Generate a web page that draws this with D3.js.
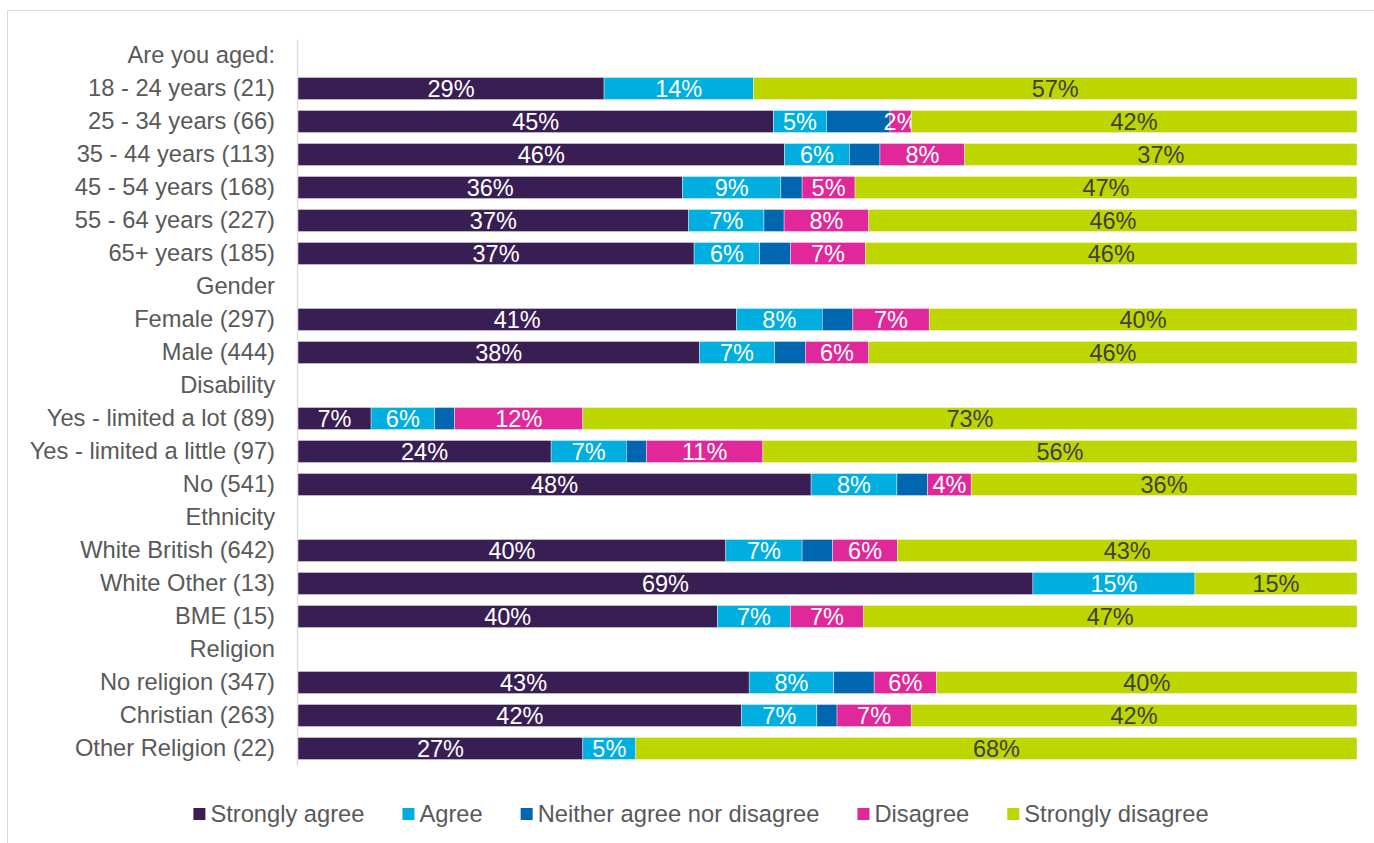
<!DOCTYPE html>
<html>
<head>
<meta charset="utf-8">
<script src="https://cdn.jsdelivr.net/npm/d3@7"></script>
<style>
  body { margin: 0; background: #fff; }
  text { font-family: Arial, "Liberation Sans", sans-serif; }
</style>
</head>
<body>
<script>
// rows of the chart, header rows have no values
var categories = ["Are you aged:", "18 - 24 years (21)", "25 - 34 years (66)", "35 - 44 years (113)",
  "45 - 54 years (168)", "55 - 64 years (227)", "65+ years (185)", "Gender", "Female (297)", "Male (444)",
  "Disability", "Yes - limited a lot (89)", "Yes - limited a little (97)", "No (541)", "Ethnicity",
  "White British (642)", "White Other (13)", "BME (15)", "Religion", "No religion (347)",
  "Christian (263)", "Other Religion (22)"];

var stronglyAgree = [null, 28.9, 44.9, 45.9, 36.3, 36.9, 37.4, null, 41.4, 37.9, null, 6.9, 23.9, 48.4, null, 40.4, 69.4, 39.6, null, 42.6, 41.9, 26.9];
var agree = [null, 14.1, 5.0, 6.1, 9.3, 7.1, 6.2, null, 8.1, 7.1, null, 6.0, 7.1, 8.1, null, 7.2, 15.3, 6.9, null, 8.0, 7.1, 5.0];
var neither = [null, 0, 6.0, 2.9, 2.0, 1.9, 2.9, null, 2.9, 2.9, null, 1.9, 1.9, 2.9, null, 2.9, 0, 0, null, 3.8, 1.9, 0];
var disagree = [null, 0, 2.0, 8.0, 5.0, 8.0, 7.1, null, 7.2, 6.0, null, 12.1, 11.0, 4.1, null, 6.1, 0, 6.9, null, 5.9, 7.0, 0];
var stronglyDisagree = [null, 57.0, 42.1, 37.0, 47.4, 46.1, 46.4, null, 40.4, 46.1, null, 73.1, 56.1, 36.4, null, 43.4, 15.3, 46.6, null, 39.7, 42.1, 68.1];

var seriesNames = ["Strongly agree", "Agree", "Neither agree nor disagree", "Disagree", "Strongly disagree"];
var seriesColours = ["#391e54", "#00aee0", "#0066b0", "#e0289b", "#bed600"];
var labelled = [true, true, false, true, true];

var w = 1374;
var h = 843;

var svg = d3.select("body")
  .append("svg")
  .attr("width", w)
  .attr("height", h);

// chart area frame
svg.append("rect")
  .attr("x", 7.5)
  .attr("y", 10.5)
  .attr("width", 1400)
  .attr("height", 900)
  .attr("fill", "none")
  .attr("stroke", "#d9d9d9");

// build table for the stack
var table = categories.map(function(c, i) {
  return {
    cat: c,
    header: stronglyAgree[i] === null,
    "Strongly agree": stronglyAgree[i] || 0,
    "Agree": agree[i] || 0,
    "Neither agree nor disagree": neither[i] || 0,
    "Disagree": disagree[i] || 0,
    "Strongly disagree": stronglyDisagree[i] || 0
  };
});

var stack = d3.stack()
  .keys(seriesNames)
  .offset(d3.stackOffsetExpand);
var layers = stack(table.filter(function(d) { return !d.header; }));

var xScale = d3.scaleLinear()
  .domain([0, 1])
  .range([298, 1357]);

var yScale = d3.scaleBand()
  .domain(categories)
  .range([39, 765])
  .paddingInner(0.33)
  .paddingOuter(0.165);

var groups = svg.selectAll("g.layer")
  .data(layers)
  .enter()
  .append("g")
  .attr("class", "layer")
  .attr("fill", function(d, i) { return seriesColours[i]; });

groups.selectAll("rect")
  .data(function(d) { return d; })
  .enter()
  .append("rect")
  .attr("x", function(d) { return xScale(d[0]); })
  .attr("y", function(d) { return yScale(d.data.cat); })
  .attr("width", function(d) { return xScale(d[1]) - xScale(d[0]); })
  .attr("height", yScale.bandwidth())
  .attr("stroke", "#fff")
  .attr("stroke-width", 0.4);

// data labels
groups.each(function(layer, li) {
  if (!labelled[li]) return;
  d3.select(this).selectAll("text")
    .data(layer.filter(function(d) { return d.data[layer.key] > 0; }))
    .enter()
    .append("text")
    .attr("x", function(d) { return (xScale(d[0]) + xScale(d[1])) / 2; })
    .attr("y", function(d) { return yScale(d.data.cat) + yScale.bandwidth() / 2; })
    .attr("dy", "0.35em")
    .attr("text-anchor", "middle")
    .style("font-size", "23.5px")
    .attr("fill", li === 4 ? "#404040" : "#ffffff")
    .text(function(d) { return Math.round(d.data[layer.key]) + "%"; });
});

// y axis
var yAxis = svg.append("g")
  .attr("transform", "translate(297,0)")
  .call(d3.axisLeft(yScale).tickSize(0).tickSizeOuter(0).tickPadding(22));
yAxis.select(".domain").attr("stroke", "#d9d9d9").attr("stroke-width", 1.2);
yAxis.selectAll("text")
  .style("font-size", "23.7px")
  .style("font-family", "Arial, 'Liberation Sans', sans-serif")
  .attr("fill", "#595959");

// legend
var legend = svg.append("g").attr("transform", "translate(0,814)");
var items = legend.selectAll("g")
  .data(seriesNames)
  .enter()
  .append("g");
items.append("rect")
  .attr("y", -6)
  .attr("width", 12)
  .attr("height", 12)
  .attr("fill", function(d, i) { return seriesColours[i]; });
items.append("text")
  .attr("x", 17)
  .attr("dy", "0.35em")
  .style("font-size", "23.7px")
  .attr("fill", "#595959")
  .text(function(d) { return d; });

var offsets = [];
var total = 0;
items.each(function() {
  var tw = d3.select(this).select("text").node().getComputedTextLength();
  offsets.push(total);
  total += 17 + tw + 38;
});
total -= 38;
var start = 701 - total / 2;
items.attr("transform", function(d, i) { return "translate(" + (start + offsets[i]) + ",0)"; });
</script>
</body>
</html>
